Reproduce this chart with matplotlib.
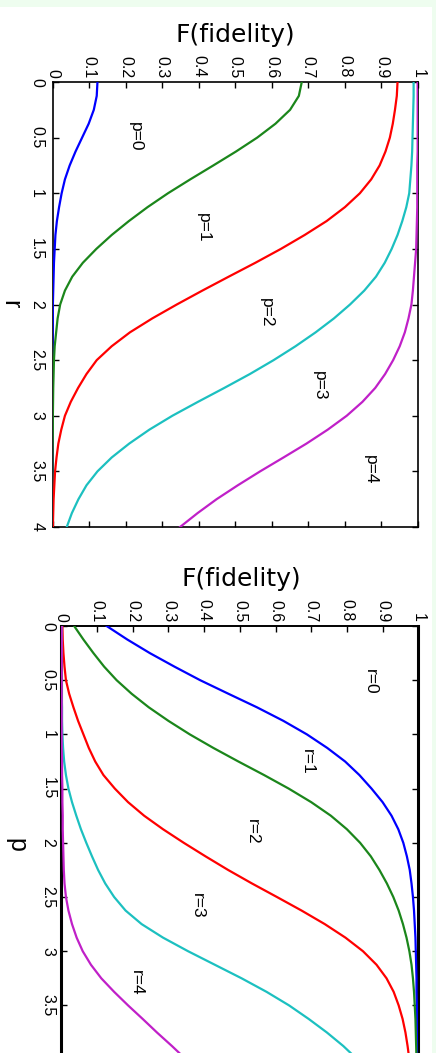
import matplotlib
matplotlib.use("Agg")
import matplotlib.pyplot as plt
from matplotlib.patches import Rectangle

plt.rcParams['font.family'] = ['Liberation Sans', 'DejaVu Sans']

# sample points of the squeezing parameter r (upper panel) and p (lower panel)
r_grid = [0, 0.125, 0.25, 0.375, 0.5, 0.625, 0.75, 0.875, 1.0, 1.125, 1.25, 1.375, 1.5, 1.625,
          1.75, 1.875, 2.0, 2.125, 2.25, 2.375, 2.5, 2.625, 2.75, 2.875, 3.0, 3.125, 3.25,
          3.375, 3.5, 3.625, 3.75, 3.875, 4.0]
p_grid = list(r_grid)

# fidelity vs r for fixed p
fid_p0 = [0.123, 0.121, 0.113, 0.099, 0.081, 0.063, 0.047, 0.034, 0.025, 0.018, 0.012, 0.008,
          0.006, 0.004, 0.003, 0.002, 0.001, 0.001, 0.0005, 0, 0, 0, 0, 0, 0, 0, 0, 0, 0, 0, 0, 0, 0]
fid_p1 = [0.682, 0.674, 0.650, 0.610, 0.560, 0.502, 0.440, 0.377, 0.316, 0.260, 0.209, 0.162,
          0.120, 0.083, 0.054, 0.034, 0.021, 0.014, 0.010, 0.006, 0.004, 0.003, 0.002, 0.0015,
          0.001, 0.001, 0.0005, 0, 0, 0, 0, 0, 0]
fid_p2 = [0.944, 0.942, 0.937, 0.931, 0.923, 0.911, 0.895, 0.872, 0.841, 0.800, 0.750, 0.690,
          0.625, 0.555, 0.482, 0.410, 0.340, 0.273, 0.212, 0.162, 0.121, 0.093, 0.070, 0.050,
          0.034, 0.024, 0.016, 0.011, 0.007, 0.005, 0.003, 0.002, 0.001]
fid_p3 = [0.988, 0.988, 0.987, 0.986, 0.985, 0.984, 0.982, 0.979, 0.976, 0.968, 0.957, 0.944,
          0.928, 0.909, 0.885, 0.853, 0.814, 0.770, 0.720, 0.665, 0.605, 0.540, 0.470, 0.398,
          0.328, 0.265, 0.210, 0.162, 0.123, 0.093, 0.071, 0.053, 0.039]
fid_p4 = [0.999, 0.999, 0.999, 0.999, 0.999, 0.999, 0.998, 0.998, 0.998, 0.998, 0.997, 0.996,
          0.995, 0.992, 0.989, 0.986, 0.982, 0.974, 0.964, 0.950, 0.932, 0.910, 0.883, 0.848,
          0.805, 0.753, 0.695, 0.632, 0.568, 0.507, 0.449, 0.397, 0.349]

# fidelity vs p for fixed r
fid_r0 = [0.127, 0.185, 0.248, 0.317, 0.389, 0.468, 0.548, 0.622, 0.688, 0.745, 0.795, 0.835,
          0.869, 0.900, 0.925, 0.944, 0.958, 0.968, 0.976, 0.981, 0.985, 0.988, 0.990, 0.992,
          0.993, 0.994, 0.995, 0.995, 0.996, 0.996, 0.997, 0.997, 0.997]
fid_r1 = [0.036, 0.062, 0.090, 0.120, 0.155, 0.197, 0.245, 0.300, 0.360, 0.426, 0.496, 0.568,
          0.637, 0.700, 0.755, 0.800, 0.837, 0.867, 0.891, 0.912, 0.930, 0.945, 0.957, 0.967,
          0.975, 0.981, 0.985, 0.988, 0.990, 0.992, 0.993, 0.994, 0.995]
fid_r2 = [0.003, 0.004, 0.006, 0.009, 0.013, 0.022, 0.034, 0.047, 0.062, 0.077, 0.095, 0.118,
          0.150, 0.187, 0.232, 0.285, 0.343, 0.404, 0.467, 0.534, 0.604, 0.673, 0.738, 0.796,
          0.845, 0.883, 0.911, 0.931, 0.945, 0.956, 0.964, 0.970, 0.975]
fid_r3 = [0.001, 0.001, 0.001, 0.001, 0.001, 0.001, 0.002, 0.002, 0.003, 0.005, 0.008, 0.013,
          0.020, 0.030, 0.042, 0.055, 0.070, 0.086, 0.103, 0.123, 0.148, 0.180, 0.225, 0.285,
          0.355, 0.430, 0.505, 0.575, 0.638, 0.693, 0.744, 0.790, 0.830]
fid_r4 = [0.001, 0.001, 0.001, 0.001, 0.001, 0.001, 0.001, 0.001, 0.001, 0.001, 0.002, 0.002,
          0.003, 0.003, 0.004, 0.004, 0.005, 0.006, 0.007, 0.009, 0.013, 0.020, 0.030, 0.043,
          0.060, 0.083, 0.112, 0.148, 0.187, 0.228, 0.268, 0.310, 0.350]

colors = ['#0000ff', '#1b861b', '#ff0000', '#1cc0c0', '#c020c8']

top_labels = ['p=0', 'p=1', 'p=2', 'p=3', 'p=4']
top_label_pos = [(0.226, 0.495), (0.412, 1.314), (0.584, 2.07), (0.729, 2.727), (0.871, 3.483)]
bot_labels = ['r=0', 'r=1', 'r=2', 'r=3', 'r=4']
bot_label_pos = [(0.865, 0.517), (0.69, 1.255), (0.534, 1.90), (0.38, 2.583), (0.209, 3.293)]

f_ticks = [0, 0.1, 0.2, 0.3, 0.4, 0.5, 0.6, 0.7, 0.8, 0.9, 1.0]
f_ticklabels = ['0', '0.1', '0.2', '0.3', '0.4', '0.5', '0.6', '0.7', '0.8', '0.9', '1']
s_ticks = [0, 0.5, 1.0, 1.5, 2.0, 2.5, 3.0, 3.5, 4.0]
s_ticklabels = ['0', '0.5', '1', '1.5', '2', '2.5', '3', '3.5', '4']

W, H = 436, 1053
fig = plt.figure(figsize=(W / 100, H / 100), dpi=100, facecolor='#eefdef')
fig.patches.append(Rectangle((0, 0), 432 / W, 1 - 7 / H, transform=fig.transFigure,
                             facecolor='white', edgecolor='none', zorder=-10))


def setup_axes(ax, xpad, ypad, ylabels):
    ax.set_xlim(0, 1)
    ax.set_ylim(4, 0)
    ax.set_xticks(f_ticks, f_ticklabels, rotation=-90, ha='center', va='bottom')
    ax.set_yticks(s_ticks, ylabels, rotation=-90, ha='right', va='center')
    ax.tick_params(axis='x', direction='in', top=True, bottom=True, labeltop=True,
                   labelbottom=False, length=4, width=1, pad=xpad, labelsize=11.5)
    ax.tick_params(axis='y', direction='in', left=True, right=True, labelleft=True,
                   length=4, width=1, pad=ypad, labelsize=11.5)
    ax.patch.set_alpha(0)


# upper panel: F versus r
ax1 = fig.add_axes([52.5 / W, 1 - 527 / H, 365.5 / W, 445 / H])
for fid, c in zip([fid_p0, fid_p1, fid_p2, fid_p3, fid_p4], colors):
    ax1.plot(fid, r_grid, color=c, lw=1.6, zorder=3, solid_joinstyle='round')
for txt, (fx, ry) in zip(top_labels, top_label_pos):
    ax1.text(fx, ry, txt, rotation=-90, ha='center', va='center', fontsize=12.5)
setup_axes(ax1, 3, 6, s_ticklabels)
for s in ax1.spines.values():
    s.set_linewidth(1.2)

# lower panel: F versus p (runs past the bottom edge, so the last label is left blank)
ax2 = fig.add_axes([61.3 / W, 1 - 1059.6 / H, 357 / W, 433.6 / H])
for fid, c in zip([fid_r0, fid_r1, fid_r2, fid_r3, fid_r4], colors):
    ax2.plot(fid, p_grid, color=c, lw=1.6, zorder=3, solid_joinstyle='round')
for txt, (fx, py) in zip(bot_labels, bot_label_pos):
    ax2.text(fx, py, txt, rotation=-90, ha='center', va='center', fontsize=12.5)
setup_axes(ax2, 3, 4, s_ticklabels[:-1] + [''])
ax2.spines['left'].set_linewidth(2.2)
ax2.spines['right'].set_linewidth(2.2)
ax2.spines['top'].set_linewidth(1.4)

fig.text(235 / W, 1 - 35 / H, 'F(fidelity)', ha='center', va='center', fontsize=18,
         family='DejaVu Sans')
fig.text(241 / W, 1 - 579 / H, 'F(fidelity)', ha='center', va='center', fontsize=18,
         family='DejaVu Sans')
fig.text(10 / W, 1 - 304 / H, 'r', rotation=-90, ha='center', va='center', fontsize=18)
fig.text(16 / W, 1 - 845 / H, 'p', rotation=-90, ha='center', va='center', fontsize=18)

fig.savefig('out.png', dpi=100, facecolor=fig.get_facecolor())
